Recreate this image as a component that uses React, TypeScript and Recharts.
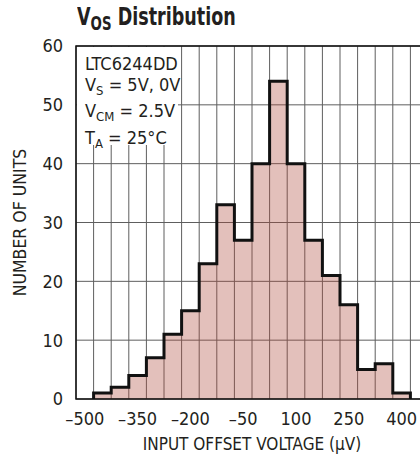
import {
  ComposedChart,
  Area,
  XAxis,
  YAxis,
  CartesianGrid,
  ReferenceArea,
  Label,
} from 'recharts';

// histogram bins, 50µV wide, labelled by bin centre
const binCenters = [
  -500, -450, -400, -350, -300, -250, -200, -150, -100, -50,
  0, 50, 100, 150, 200, 250, 300, 350, 400, 450,
];
const unitCounts = [0, 1, 2, 4, 7, 11, 15, 23, 33, 27, 40, 54, 40, 27, 21, 16, 5, 6, 1, 0];
const binWidth = 50;

const xTicks = [-500, -350, -200, -50, 100, 250, 400];
const yTicks = [0, 10, 20, 30, 40, 50, 60];

const xDomain = [binCenters[0] - binWidth / 2, binCenters[binCenters.length - 1] + binWidth / 2];
const binEdges = binCenters.slice(1).map((c) => c - binWidth / 2);

// step outline: one point per bin left edge, closed at first/last non-empty bin
const first = unitCounts.findIndex((n) => n > 0);
const last = unitCounts.length - 1 - [...unitCounts].reverse().findIndex((n) => n > 0);
const outline = [
  { v: binCenters[first] - binWidth / 2, n: 0 },
  ...binCenters.slice(first, last + 1).map((c, i) => ({ v: c - binWidth / 2, n: unitCounts[first + i] })),
  { v: binCenters[last] + binWidth / 2, n: 0 },
];

const FONT = '"Liberation Sans Narrow", "DejaVu Sans Condensed", sans-serif';
const INK = '#231f20';

const fmt = (v: number) => (v < 0 ? `–${Math.abs(v)}` : `${v}`);

export default function App() {
  return (
    <div
      style={{
        position: 'absolute',
        left: 0,
        top: 0,
        width: 420,
        height: 458,
        overflow: 'hidden',
        background: '#fff',
        fontFamily: FONT,
        color: INK,
      }}
    >
      <ComposedChart
        width={440}
        height={458}
        data={outline}
        margin={{ top: 46, right: 12, bottom: 0, left: 0 }}
        style={{ position: 'absolute', left: 0, top: 0 }}
      >
        <XAxis
          xAxisId="x"
          dataKey="v"
          type="number"
          domain={xDomain}
          ticks={xTicks}
          interval={0}
          tickFormatter={fmt}
          allowDataOverflow
          height={59}
          axisLine={false}
          tickLine={false}
          tickMargin={7}
          tick={{ fill: INK, fontSize: 18, fontFamily: FONT }}
        >
          <Label
            value="INPUT OFFSET VOLTAGE (µV)"
            position="insideBottom"
            offset={8}
            style={{ fill: INK, fontSize: 17, fontFamily: FONT }}
          />
        </XAxis>
        <XAxis
          xAxisId="grid"
          dataKey="v"
          type="number"
          domain={xDomain}
          ticks={binEdges}
          interval={0}
          allowDataOverflow
          height={0}
          hide
        />
        <YAxis
          domain={[0, 60]}
          ticks={yTicks}
          interval={0}
          width={76}
          axisLine={false}
          tickLine={false}
          tickMargin={7}
          tick={{ fill: INK, fontSize: 18, fontFamily: FONT }}
        >
          <Label
            value="NUMBER OF UNITS"
            angle={-90}
            position="insideLeft"
            offset={20}
            style={{ fill: INK, fontSize: 17.5, fontFamily: FONT, textAnchor: 'middle' }}
          />
        </YAxis>
        <CartesianGrid xAxisId="grid" stroke="#5e5e5e" strokeWidth={1} />
        <Area
          xAxisId="x"
          type="stepAfter"
          dataKey="n"
          stroke="#111"
          strokeWidth={3}
          strokeLinejoin="miter"
          fill="#b04a3c"
          fillOpacity={0.35}
          isAnimationActive={false}
          dot={false}
          activeDot={false}
        />
        <ReferenceArea
          xAxisId="x"
          x1={xDomain[0]}
          x2={xDomain[1]}
          y1={0}
          y2={60}
          fill="none"
          stroke="#111"
          strokeWidth={1.5}
        />
      </ComposedChart>

      <div
        style={{
          position: 'absolute',
          left: 77,
          top: 0,
          fontSize: 25,
          fontWeight: 700,
          lineHeight: '34px',
          whiteSpace: 'nowrap',
          transform: 'scaleX(0.78)',
          transformOrigin: 'left top',
        }}
      >
        V<sub style={{ fontSize: 19, verticalAlign: -5 }}>OS</sub> Distribution
      </div>

      <div
        style={{
          position: 'absolute',
          left: 77,
          top: 47,
          width: 101,
          height: 98,
          background: '#fff',
          fontSize: 18,
          lineHeight: '20.5px',
          paddingLeft: 8,
          paddingTop: 7,
          boxSizing: 'border-box',
          whiteSpace: 'nowrap',
        }}
      >
        <div>LTC6244DD</div>
        <div>
          V<sub style={{ fontSize: 13, verticalAlign: -4 }}>S</sub> = 5V, 0V
        </div>
        <div>
          V<sub style={{ fontSize: 13, verticalAlign: -4 }}>CM</sub> = 2.5V
        </div>
        <div>
          T<sub style={{ fontSize: 13, verticalAlign: -4 }}>A</sub> = 25°C
        </div>
      </div>
    </div>
  );
}
